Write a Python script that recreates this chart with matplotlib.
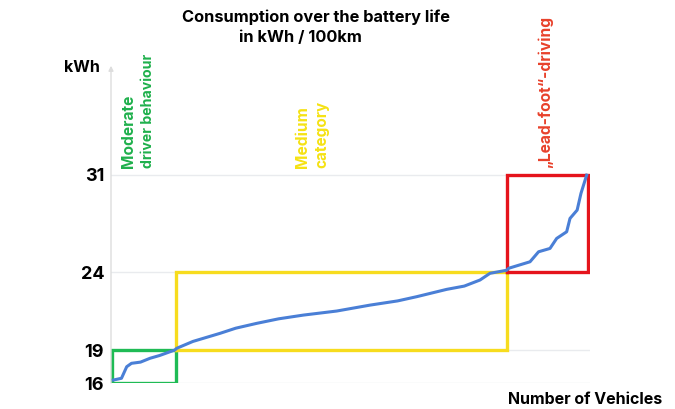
import numpy as np
import matplotlib
matplotlib.use("Agg")
import matplotlib.pyplot as plt

# ---- data ----
# x: share of vehicles (0..100, sorted), y: consumption kWh/100km
curve_x = [0.3, 2.0, 3.1, 4.1, 6.0, 8.0, 10.0, 13.2, 13.6, 17.0, 22.7, 26.0,
           30.4, 35.0, 40.2, 47.2, 54.2, 60.0, 64.0, 70.3, 74.0, 77.3, 79.4,
           82.9, 83.3, 87.8, 89.6, 92.0, 93.4, 95.5, 96.2, 97.7, 98.5, 99.7]
curve_y = [16.27, 16.43, 17.48, 17.79, 17.9, 18.25, 18.5, 19.0, 19.11, 19.55,
           20.07, 20.4, 20.71, 21.0, 21.24, 21.5, 21.88, 22.15, 22.42, 22.89,
           23.1, 23.49, 23.92, 24.13, 24.27, 24.74, 25.46, 25.70, 26.42, 26.90,
           27.86, 28.46, 29.66, 30.98]
y_ticks = [16, 19, 24, 31]
y_tick_labels = ["16", "19", "24", "31"]
cat_line1 = ["Moderate", "Medium", "\u201eLead-foot\u201c-driving"]
cat_line2 = ["driver behaviour", "category", ""]
cat_x0 = [0.0, 13.4, 83.0]
cat_x1 = [13.4, 83.0, 100.0]
cat_y0 = [16, 19, 24]
cat_y1 = [19, 24, 31]
cat_colors = ["#1fbb55", "#f7dc1e", "#e5141c"]
text_colors = ["#1fb04c", "#f5e214", "#e8412b"]

# ---- non-linear (piecewise) value scale, as in the original ----
_vals = np.array([10, 16, 19, 24, 31, 60], dtype=float)
_pos = np.array([-66.0, 0.0, 33.0, 111.0, 208.3, 208.3 + 29 * 13.9])

def fwd(v):
    return np.interp(v, _vals, _pos)

def inv(p):
    return np.interp(p, _pos, _vals)

plt.rcParams['font.family'] = ['Inter', 'DejaVu Sans']

fig = plt.figure(figsize=(6.75, 4.09), dpi=100)
ax = fig.add_axes([111 / 675, 26 / 409, 479 / 675, 311 / 409])
ax.set_yscale('function', functions=(fwd, inv))
ax.set_xlim(-0.2, 100.4)
ax.set_ylim(16, 38.4)

for t in y_ticks:
    ax.axhline(t, color="#e9ebee", lw=1, zorder=0)

for s in ax.spines.values():
    s.set_visible(False)
ax.set_xticks([])
ax.set_yticks(y_ticks)
ax.set_yticklabels(y_tick_labels, fontsize=13, fontweight='bold')
ax.tick_params(axis='y', length=0, pad=5)

# y axis line with arrow
ax.annotate("", xy=(0, 1.02), xycoords='axes fraction', xytext=(0, 0),
            textcoords='axes fraction',
            arrowprops=dict(arrowstyle='-|>', color='#dddddd', lw=1,
                            mutation_scale=7, shrinkA=0, shrinkB=0),
            annotation_clip=False)

# category boxes
for x0, x1, y0, y1, c in zip(cat_x0, cat_x1, cat_y0, cat_y1, cat_colors):
    ax.plot([x0, x1, x1, x0, x0], [y0, y0, y1, y1, y0], color=c, lw=2.4,
            solid_joinstyle='miter', zorder=2)

ax.plot(curve_x, curve_y, color="#4a7fd6", lw=2.2, zorder=3)

# category labels (rotated)
line1_x = [128, 302, 545]
line2_x = [148, 322, None]
sizes2 = [10.2, 11, 11]
for i in range(3):
    fig.text(line1_x[i] / 675, 1 - 168 / 409, cat_line1[i], rotation=90,
             color=text_colors[i], fontsize=11.2, fontweight='bold',
             ha='center', va='bottom')
    if cat_line2[i]:
        fig.text(line2_x[i] / 675, 1 - 168 / 409, cat_line2[i], rotation=90,
                 color=text_colors[i], fontsize=sizes2[i], fontweight='bold',
                 ha='center', va='bottom')

# titles / axis labels
fig.text(316 / 675, 1 - 17 / 409, "Consumption over the battery life",
         fontsize=11.8, fontweight='bold', ha='center', va='center')
fig.text(300 / 675, 1 - 37 / 409, "in kWh / 100km",
         fontsize=11.8, fontweight='bold', ha='center', va='center')
fig.text(100 / 675, 1 - 68 / 409, "kWh", fontsize=11.5, fontweight='bold',
         ha='right', va='center')
fig.text(662 / 675, 1 - 399 / 409, "Number of Vehicles", fontsize=11.5,
         fontweight='bold', ha='right', va='center')

fig.savefig("out.png", dpi=100)
